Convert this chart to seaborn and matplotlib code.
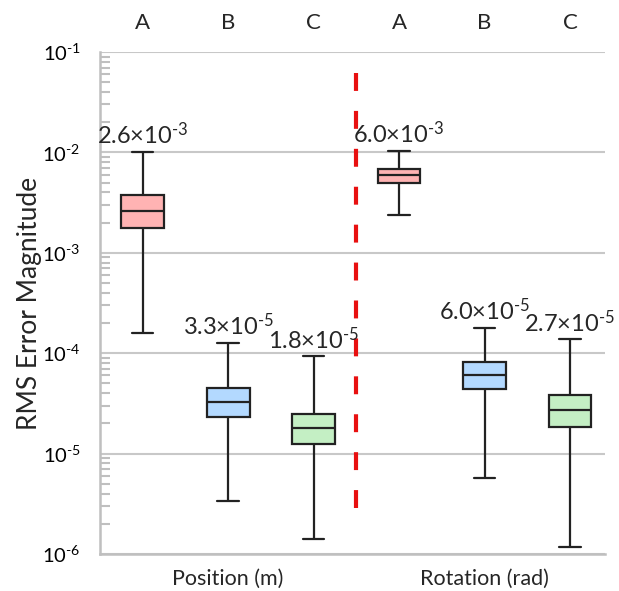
import numpy as np
import pandas as pd
import seaborn as sns
import matplotlib
matplotlib.use("Agg")
import matplotlib.pyplot as plt
from matplotlib.ticker import LogLocator, NullFormatter, FixedFormatter

# ---- data ----
groups = ["Position (m)", "Position (m)", "Position (m)",
          "Rotation (rad)", "Rotation (rad)", "Rotation (rad)"]
methods = ["A", "B", "C", "A", "B", "C"]
whisker_low = [1.6e-4, 3.35e-6, 1.41e-6, 2.36e-3, 5.7e-6, 1.18e-6]
q1 = [1.78e-3, 2.33e-5, 1.24e-5, 5.0e-3, 4.37e-5, 1.84e-5]
median = [2.6e-3, 3.3e-5, 1.8e-5, 6.0e-3, 6.0e-5, 2.7e-5]
q3 = [3.8e-3, 4.5e-5, 2.48e-5, 6.9e-3, 8.2e-5, 3.86e-5]
whisker_high = [1.02e-2, 1.27e-4, 9.3e-5, 1.03e-2, 1.78e-4, 1.37e-4]
median_labels = ["2.6×10$^{\\text{-3}}$", "3.3×10$^{\\text{-5}}$",
                 "1.8×10$^{\\text{-5}}$", "6.0×10$^{\\text{-3}}$",
                 "6.0×10$^{\\text{-5}}$", "2.7×10$^{\\text{-5}}$"]
group_labels = ["Position (m)", "Rotation (rad)"]
ytick_values = [1e-6, 1e-5, 1e-4, 1e-3, 1e-2, 1e-1]
ytick_labels = ["10$^{\\text{-6}}$", "10$^{\\text{-5}}$", "10$^{\\text{-4}}$",
                "10$^{\\text{-3}}$", "10$^{\\text{-2}}$", "10$^{\\text{-1}}$"]
palette = {"A": "#ffb3b3", "B": "#b3d9ff", "C": "#c4efc4"}

slots = [f"{g} {m}" for g, m in zip(groups, methods)]
rows = []
for s, m, lo, a, md, b, hi in zip(slots, methods, whisker_low, q1, median, q3, whisker_high):
    for v in (lo, a, md, b, hi):
        rows.append({"slot": s, "method": m, "value": v})
df = pd.DataFrame(rows)

sns.set_theme(style="white")
plt.rcParams["font.family"] = ["Lato", "DejaVu Sans"]
plt.rcParams["mathtext.fontset"] = "custom"
plt.rcParams["mathtext.rm"] = "Lato"
plt.rcParams["mathtext.it"] = "Lato:italic"
plt.rcParams["mathtext.bf"] = "Lato:bold"

fig = plt.figure(figsize=(6.19, 5.91), dpi=100)
ax = fig.add_axes([100 / 619, 37 / 591, 505 / 619, 502 / 591])

sns.boxplot(data=df, x="slot", y="value", hue="method", order=slots,
            palette=palette, saturation=1, width=0.5, whis=np.inf,
            linecolor="#222222", linewidth=1.6, legend=False, log_scale=True,
            ax=ax, dodge=False)

ax.set_ylim(1e-6, 1e-1)
ax.set_xlim(-0.5, 5.41)

# grid & spines
ax.set_yticks(ytick_values)
ax.yaxis.set_major_formatter(FixedFormatter(ytick_labels))
ax.yaxis.set_minor_locator(LogLocator(base=10, subs=np.arange(2, 10), numticks=100))
ax.yaxis.set_minor_formatter(NullFormatter())
ax.grid(axis="y", which="major", color="#c8c8c8", linewidth=1.5)
ax.set_axisbelow(True)
for sp in ["top", "right"]:
    ax.spines[sp].set_visible(False)
for sp in ["left", "bottom"]:
    ax.spines[sp].set_color("#bfbfbf")
    ax.spines[sp].set_linewidth(1.8)

ax.tick_params(axis="y", which="major", length=0, pad=14, labelsize=14.5, labelcolor="black")
ax.tick_params(axis="y", which="minor", direction="in", length=7, width=1.5,
               color="#bfbfbf", left=True)

ax.set_xticks([1, 4])
ax.set_xticklabels(group_labels, fontsize=15.5)
ax.tick_params(axis="x", length=0, pad=11)
ax.set_xlabel("")
ax.set_ylabel("RMS Error Magnitude", fontsize=19, labelpad=0)

top = ax.secondary_xaxis("top")
top.set_xticks(range(len(methods)))
top.set_xticklabels(methods, fontsize=16)
top.tick_params(length=0, pad=14)
top.spines["top"].set_visible(False)

# median annotations
for i, (hi, lab) in enumerate(zip(whisker_high, median_labels)):
    ax.text(i, hi * 1.2, lab, ha="center", va="baseline", fontsize=17)

# dashed separator
ax.axvline(2.5, ymin=0.092, ymax=0.98, color="#e81010", linewidth=3,
           linestyle=(0, (4.3, 4.8)))

fig.savefig("out.png", dpi=100)
